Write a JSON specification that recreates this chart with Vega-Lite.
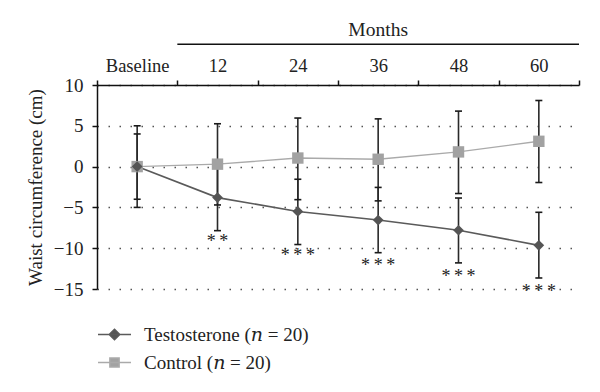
{
  "$schema": "https://vega.github.io/schema/vega-lite/v6.json",
  "width": 482,
  "height": 204,
  "autosize": "none",
  "padding": {"left": 97, "top": 85, "right": 21, "bottom": 103},
  "background": "white",
  "config": {
    "view": {"stroke": null},
    "font": "Liberation Serif, DejaVu Serif, serif",
    "axisY": {
      "values": [-15, -10, -5, 0, 5, 10],
      "grid": true,
      "gridDash": [1.5, 9.5],
      "gridColor": "#555555",
      "gridWidth": 1.3,
      "domainColor": "#111111",
      "domainWidth": 1.5,
      "tickColor": "#111111",
      "tickWidth": 1.5,
      "tickSize": 5,
      "labelFont": "Liberation Serif, DejaVu Serif, serif",
      "labelFontSize": 19,
      "labelColor": "#222222",
      "labelPadding": 9,
      "titleFont": "Liberation Serif, DejaVu Serif, serif",
      "titleFontSize": 19,
      "titleFontWeight": "normal",
      "titleColor": "#222222",
      "titlePadding": 8
    },
    "axisX": {
      "orient": "top",
      "tickBand": "extent",
      "grid": false,
      "domainColor": "#111111",
      "domainWidth": 1.5,
      "tickColor": "#111111",
      "tickWidth": 1.5,
      "tickSize": 5,
      "labelAngle": 0,
      "labelFont": "Liberation Serif, DejaVu Serif, serif",
      "labelFontSize": 18.5,
      "labelColor": "#222222",
      "labelPadding": 5,
      "title": null
    }
  },
  "datasets": {
    "stats": [
      {"time": "Baseline", "series": "Testosterone (𝑛 = 20)", "mean": 0, "lo": -4, "hi": 4},
      {"time": "12", "series": "Testosterone (𝑛 = 20)", "mean": -3.8, "lo": -7.85, "hi": 0.25},
      {"time": "24", "series": "Testosterone (𝑛 = 20)", "mean": -5.5, "lo": -9.55, "hi": -1.55},
      {"time": "36", "series": "Testosterone (𝑛 = 20)", "mean": -6.55, "lo": -10.55, "hi": -2.55},
      {"time": "48", "series": "Testosterone (𝑛 = 20)", "mean": -7.8, "lo": -11.8, "hi": -3.85},
      {"time": "60", "series": "Testosterone (𝑛 = 20)", "mean": -9.65, "lo": -13.65, "hi": -5.6},
      {"time": "Baseline", "series": "Control (𝑛 = 20)", "mean": 0, "lo": -5, "hi": 5},
      {"time": "12", "series": "Control (𝑛 = 20)", "mean": 0.3, "lo": -4.7, "hi": 5.25},
      {"time": "24", "series": "Control (𝑛 = 20)", "mean": 1.05, "lo": -4.05, "hi": 5.95},
      {"time": "36", "series": "Control (𝑛 = 20)", "mean": 0.9, "lo": -4.2, "hi": 5.85},
      {"time": "48", "series": "Control (𝑛 = 20)", "mean": 1.8, "lo": -3.3, "hi": 6.8},
      {"time": "60", "series": "Control (𝑛 = 20)", "mean": 3.1, "lo": -1.95, "hi": 8.1}
    ],
    "stars": [
      {"time": "12", "label": "*\u2009*", "pos": -8.7},
      {"time": "24", "label": "*\u2009*\u2009*", "pos": -10.45},
      {"time": "36", "label": "*\u2009*\u2009*", "pos": -11.65},
      {"time": "48", "label": "*\u2009*\u2009*", "pos": -13.0},
      {"time": "60", "label": "*\u2009*\u2009*", "pos": -14.85}
    ],
    "months": [
      {"time": "36", "start": "12", "end": "60", "label": "Months", "textPos": 16.75, "linePos": 15}
    ]
  },
  "data": {"name": "stats"},
  "encoding": {
    "x": {
      "field": "time",
      "type": "nominal",
      "scale": {"type": "band", "domain": ["Baseline", "12", "24", "36", "48", "60"], "paddingInner": 0, "paddingOuter": 0},
      "title": null
    },
    "y": {
      "field": "mean",
      "type": "quantitative",
      "scale": {"domain": [-15, 10], "nice": false, "zero": false},
      "title": "Waist circumference (cm)"
    }
  },
  "layer": [
    {
      "mark": {"type": "rule", "color": "#2a2a2a", "strokeWidth": 1.6},
      "encoding": {
        "y": {"field": "lo", "type": "quantitative", "title": "Waist circumference (cm)"},
        "y2": {"field": "hi"}
      }
    },
    {
      "mark": {"type": "tick", "orient": "horizontal", "size": 7, "thickness": 1.6, "color": "#1a1a1a", "opacity": 1},
      "encoding": {"y": {"field": "lo", "type": "quantitative", "title": "Waist circumference (cm)"}}
    },
    {
      "mark": {"type": "tick", "orient": "horizontal", "size": 7, "thickness": 1.6, "color": "#1a1a1a", "opacity": 1},
      "encoding": {"y": {"field": "hi", "type": "quantitative", "title": "Waist circumference (cm)"}}
    },
    {
      "transform": [{"filter": "datum.series == 'Control (𝑛 = 20)'"}],
      "mark": {"type": "line", "color": "#aaaaaa", "strokeWidth": 1.4},
      "encoding": {}
    },
    {
      "transform": [{"filter": "datum.series == 'Testosterone (𝑛 = 20)'"}],
      "mark": {"type": "line", "color": "#5a5a5a", "strokeWidth": 1.6},
      "encoding": {}
    },
    {
      "transform": [{"filter": "datum.series == 'Control (𝑛 = 20)'"}],
      "mark": {"type": "point", "shape": "square", "filled": true, "size": 130, "color": "#a2a2a2", "opacity": 1},
      "encoding": {}
    },
    {
      "transform": [{"filter": "datum.series == 'Testosterone (𝑛 = 20)'"}],
      "mark": {"type": "point", "shape": "diamond", "filled": true, "size": 115, "color": "#555555", "opacity": 1},
      "encoding": {}
    },
    {
      "mark": {"type": "point", "filled": true, "size": 0, "opacity": 1, "strokeWidth": 1.5},
      "encoding": {
        "fill": {
          "field": "series", "type": "nominal",
          "scale": {"domain": ["Testosterone (𝑛 = 20)", "Control (𝑛 = 20)"], "range": ["#555555", "#a2a2a2"]},
          "legend": {"orient": "none", "legendX": 0, "legendY": 232, "title": null, "symbolSize": 1089, "symbolStrokeWidth": 1.5, "labelFont": "Liberation Serif, DejaVu Serif, serif", "labelFontSize": 19, "labelColor": "#222222", "labelOffset": 12, "rowPadding": -9, "padding": 0, "labelLimit": 400}
        },
        "stroke": {
          "field": "series", "type": "nominal",
          "scale": {"domain": ["Testosterone (𝑛 = 20)", "Control (𝑛 = 20)"], "range": ["#5a5a5a", "#aaaaaa"]},
          "legend": {"orient": "none", "legendX": 0, "legendY": 232, "title": null, "symbolSize": 1089, "symbolStrokeWidth": 1.5, "labelFont": "Liberation Serif, DejaVu Serif, serif", "labelFontSize": 19, "labelColor": "#222222", "labelOffset": 12, "rowPadding": -9, "padding": 0, "labelLimit": 400}
        },
        "shape": {
          "field": "series", "type": "nominal",
          "scale": {"domain": ["Testosterone (𝑛 = 20)", "Control (𝑛 = 20)"], "range": ["M-1,0H1M0,-0.32L0.32,0L0,0.32L-0.32,0Z", "M-1,0H1M-0.28,-0.28H0.28V0.28H-0.28Z"]},
          "legend": {"orient": "none", "legendX": 0, "legendY": 232, "title": null, "symbolSize": 1089, "symbolStrokeWidth": 1.5, "labelFont": "Liberation Serif, DejaVu Serif, serif", "labelFontSize": 19, "labelColor": "#222222", "labelOffset": 12, "rowPadding": -9, "padding": 0, "labelLimit": 400}
        }
      }
    },
    {
      "data": {"name": "stars"},
      "mark": {"type": "text", "font": "Liberation Serif, DejaVu Serif, serif", "fontSize": 18, "fill": "#222222", "baseline": "alphabetic", "dy": 9},
      "encoding": {
        "y": {"field": "pos", "type": "quantitative", "title": "Waist circumference (cm)"},
        "text": {"field": "label"}
      }
    },
    {
      "data": {"name": "months"},
      "mark": {"type": "text", "font": "Liberation Serif, DejaVu Serif, serif", "fontSize": 19.5, "fill": "#222222", "baseline": "middle"},
      "encoding": {
        "y": {"field": "textPos", "type": "quantitative", "title": "Waist circumference (cm)"},
        "text": {"field": "label"}
      }
    },
    {
      "data": {"name": "months"},
      "mark": {"type": "rule", "color": "#111111", "strokeWidth": 1.5},
      "encoding": {
        "x": {"field": "start", "type": "nominal", "bandPosition": 0, "title": null},
        "x2": {"field": "end", "bandPosition": 1},
        "y": {"field": "linePos", "type": "quantitative", "title": "Waist circumference (cm)"}
      }
    }
  ]
}
